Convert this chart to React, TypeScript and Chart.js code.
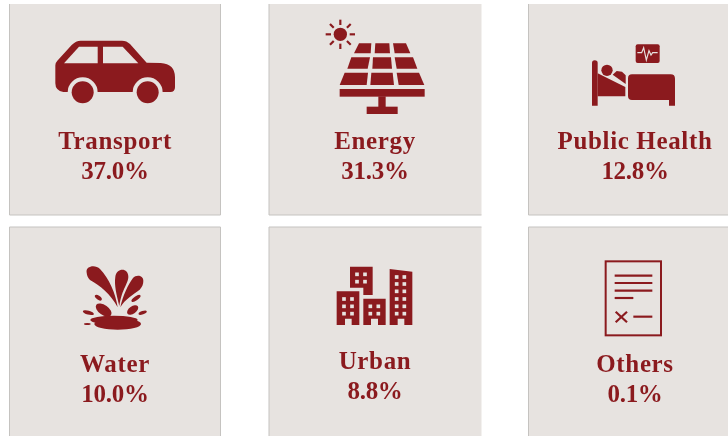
import React, { useEffect, useRef } from "react";
import { Chart, registerables } from "chart.js";

Chart.register(...registerables);

const categories = ["Transport", "Energy", "Public Health", "Water", "Urban", "Others"];
const shares = [37.0, 31.3, 12.8, 10.0, 8.8, 0.1];
const columns = [0, 1, 2, 0, 1, 2];
const rows = [0, 0, 0, 1, 1, 1];

const INK = "#8b1a1e";
const CARD = "#e7e3e0";
const EDGE = "#c5c3c0";
const FONT = "bold 25px 'Liberation Serif'";

type Ctx = CanvasRenderingContext2D;

function poly(c: Ctx, pts: number[][]) {
  c.beginPath();
  pts.forEach((p, i) => (i ? c.lineTo(p[0], p[1]) : c.moveTo(p[0], p[1])));
  c.closePath();
  c.fill();
}
function circle(c: Ctx, x: number, y: number, r: number) {
  c.beginPath();
  c.arc(x, y, r, 0, Math.PI * 2);
  c.fill();
}
function oval(c: Ctx, x: number, y: number, rx: number, ry: number, deg: number) {
  c.beginPath();
  c.ellipse(x, y, rx, ry, (deg * Math.PI) / 180, 0, Math.PI * 2);
  c.fill();
}
function seg(c: Ctx, x1: number, y1: number, x2: number, y2: number) {
  c.beginPath();
  c.moveTo(x1, y1);
  c.lineTo(x2, y2);
  c.stroke();
}

function car(c: Ctx) {
  c.fill(new Path2D("M166 196 Q166 188 172 182 L215 135 Q228 122 242 122 L366 122 Q380 122 390 132 L440 188 L482 189 Q525 192 525 232 L525 262 Q525 276 511 276 L190 276 Q166 272 166 250 Z"));
  c.fillStyle = CARD;
  circle(c, 248, 277, 45);
  circle(c, 443, 277, 45);
  poly(c, [[192, 190], [237, 140], [293, 140], [293, 190]]);
  poly(c, [[309, 140], [368, 140], [415, 190], [309, 190]]);
  c.fillRect(190, 277, 320, 50);
  c.fillStyle = INK;
  circle(c, 248, 277, 33);
  circle(c, 443, 277, 33);
}

function solar(c: Ctx) {
  circle(c, 241, 103, 20);
  c.lineWidth = 6.5;
  for (let i = 0; i < 8; i++) {
    const a = (i * Math.PI) / 4;
    seg(c, 241 + 28 * Math.cos(a), 103 + 28 * Math.sin(a), 241 + 44 * Math.cos(a), 103 + 44 * Math.sin(a));
  }
  const cells = [
    [[297, 130], [334, 130], [332, 160], [282, 160]],
    [[346, 130], [388, 130], [390, 160], [344, 160]],
    [[399, 130], [438, 130], [451, 160], [404, 160]],
    [[274, 172], [330, 172], [323, 206], [262, 206]],
    [[339, 172], [393, 172], [396, 206], [337, 206]],
    [[404, 172], [459, 172], [472, 206], [410, 206]],
    [[254, 218], [324, 218], [320, 255], [239, 255]],
    [[334, 218], [398, 218], [402, 255], [331, 255]],
    [[410, 218], [477, 218], [493, 255], [416, 255]],
  ];
  cells.forEach((p) => poly(c, p));
  c.fillRect(239, 267, 255, 23);
  c.fillRect(355, 289, 22, 33);
  c.fillRect(320, 320, 93, 22);
}

function bed(c: Ctx) {
  c.fill(new Path2D("M216 189 Q216 181 224 181 Q233 181 233 189 L233 317 L216 317 Z"));
  circle(c, 261, 211, 17);
  poly(c, [[233, 220], [316, 261], [316, 289], [233, 289]]);
  poly(c, [[278, 224], [290, 213], [306, 215], [317, 226], [317, 252]]);
  c.fill(new Path2D("M336 223 L452 223 Q465 223 465 236 L465 317 L447 317 L447 300 L336 300 Q324 300 324 288 L324 235 Q324 223 336 223 Z"));
  c.fill(new Path2D("M353 133 L413 133 Q419 133 419 139 L419 183 Q419 189 413 189 L353 189 Q347 189 347 183 L347 139 Q347 133 353 133 Z"));
  c.strokeStyle = CARD;
  c.lineWidth = 3.5;
  c.beginPath();
  [[352, 158], [365, 158], [371, 143], [379, 180], [387, 152], [393, 165], [398, 158], [413, 158]].forEach((p, i) =>
    i ? c.lineTo(p[0], p[1]) : c.moveTo(p[0], p[1])
  );
  c.stroke();
}

function water(c: Ctx) {
  c.fill(new Path2D("M260 158 C256 138 286 133 300 147 C327 175 347 220 353 262 C332 222 300 197 270 180 C263 172 261 166 260 158 Z"));
  c.fill(new Path2D("M346 170 C349 143 385 141 385 170 C385 191 366 205 358 258 C350 225 342 195 346 170 Z"));
  c.fill(new Path2D("M430 182 C430 166 409 163 399 174 C384 195 369 225 361 262 C375 237 401 223 419 209 C427 200 430 192 430 182 Z"));
  oval(c, 295, 233, 12, 6, 35);
  oval(c, 408, 235, 16, 6, -35);
  oval(c, 311, 270, 27, 15, 35);
  oval(c, 398, 270, 19, 11, -35);
  oval(c, 265, 278, 17, 6, 15);
  oval(c, 428, 278, 13, 5, -20);
  oval(c, 262, 312, 10, 3, 0);
  oval(c, 342, 300, 71, 13, 0);
  oval(c, 353, 312, 70, 17, 0);
}

function urban(c: Ctx) {
  poly(c, [[270, 140], [338, 140], [338, 225], [310, 225], [310, 203], [270, 203]]);
  poly(c, [[230, 214], [298, 214], [298, 315], [275, 315], [275, 296], [255, 296], [255, 315], [230, 315]]);
  poly(c, [[310, 236], [377, 236], [377, 315], [354, 315], [354, 296], [333, 296], [333, 315], [310, 315]]);
  poly(c, [[389, 147], [457, 155], [457, 315], [433, 315], [433, 296], [413, 296], [413, 315], [389, 315]]);
  c.fillStyle = CARD;
  const win = (xs: number[], ys: number[]) =>
    ys.forEach((y) => xs.forEach((x) => c.fillRect(x - 5.5, y - 5.5, 11, 11)));
  win([291, 315], [163, 185]);
  win([252, 276], [237, 259, 281]);
  win([331, 355], [259, 281]);
  win([410, 433], [171, 192, 214, 237, 259, 281]);
}

function others(c: Ctx) {
  c.lineWidth = 6;
  c.strokeRect(257, 124, 166, 222);
  c.lineWidth = 6.5;
  seg(c, 284, 167, 397, 167);
  seg(c, 284, 189, 397, 189);
  seg(c, 284, 212, 397, 212);
  seg(c, 284, 234, 340, 234);
  seg(c, 340, 290, 397, 290);
  seg(c, 287, 275, 321, 307);
  seg(c, 321, 275, 287, 307);
}

const painters = [car, solar, bed, water, urban, others];

function makeIcon(paint: (c: Ctx) => void) {
  const cv = document.createElement("canvas");
  cv.width = 240;
  cv.height = 220;
  const c = cv.getContext("2d") as Ctx;
  c.filter = "blur(0.4px)";
  c.scale(1 / 3, 1 / 3);
  c.fillStyle = INK;
  c.strokeStyle = INK;
  paint(c);
  return cv;
}

const cardsPlugin = {
  id: "cards",
  beforeDatasetsDraw(chart: any) {
    const { ctx, scales } = chart;
    categories.forEach((_, i) => {
      const cx = scales.x.getPixelForValue(columns[i]);
      const cy = scales.y.getPixelForValue(rows[i]);
      const left = cx - 110.5 - columns[i] * 0.5;
      const right = columns[i] === 0 ? cx + 100.5 : cx + 101.5;
      const top = rows[i] === 0 ? cy - 106 : cy - 103;
      const bottom = rows[i] === 0 ? cy + 105 : cy + 110;
      ctx.fillStyle = CARD;
      ctx.fillRect(left, top, right - left, bottom - top);
      ctx.strokeStyle = EDGE;
      ctx.lineWidth = 1;
      ctx.beginPath();
      ctx.moveTo(left, top);
      ctx.lineTo(left, bottom);
      if (columns[i] === 0) {
        ctx.moveTo(right, top);
        ctx.lineTo(right, bottom);
      }
      const rule = rows[i] === 0 ? bottom : top;
      ctx.moveTo(left, rule);
      ctx.lineTo(right, rule);
      ctx.stroke();
    });
  },
};

const lowerLabels = ["Water", "Others"];

const textPlugin = {
  id: "cardText",
  afterDatasetsDraw(chart: any) {
    const { ctx, scales } = chart;
    ctx.save();
    ctx.fillStyle = INK;
    ctx.font = FONT;
    ctx.textAlign = "center";
    ctx.textBaseline = "alphabetic";
    categories.forEach((name, i) => {
      const cx = scales.x.getPixelForValue(columns[i]) - 5;
      const cy = scales.y.getPixelForValue(rows[i]);
      const drop = lowerLabels.includes(name) ? 42 : 39;
      ctx.letterSpacing = "0.65px";
      ctx.fillText(name, cx, cy + drop);
      ctx.letterSpacing = "-0.3px";
      ctx.fillText(`${shares[i].toFixed(1)}%`, cx, cy + drop + 30);
    });
    ctx.restore();
  },
};

export default function App() {
  const ref = useRef<HTMLCanvasElement>(null);
  useEffect(() => {
    document.body.style.margin = "0";
    document.body.style.background = "#ffffff";
    const chart = new Chart(ref.current as HTMLCanvasElement, {
      type: "scatter",
      data: {
        labels: categories,
        datasets: [
          {
            label: "Share",
            data: categories.map((_, i) => ({ x: columns[i], y: rows[i] })),
            pointStyle: painters.map(makeIcon) as any,
            pointRadius: 10,
            clip: false as any,
          },
        ],
      },
      options: {
        animation: false,
        responsive: false,
        layout: { padding: 0, autoPadding: false },
        plugins: { legend: { display: false }, tooltip: { enabled: false }, title: { display: false } },
        scales: {
          x: { type: "linear", display: false, min: -120 / 260, max: 608 / 260 },
          y: { type: "linear", display: false, reverse: true, min: -0.5, max: 326 / 220 },
        },
      },
      plugins: [cardsPlugin, textPlugin],
    });
    return () => chart.destroy();
  }, []);
  return <canvas ref={ref} width={728} height={436} style={{ display: "block" }} />;
}
